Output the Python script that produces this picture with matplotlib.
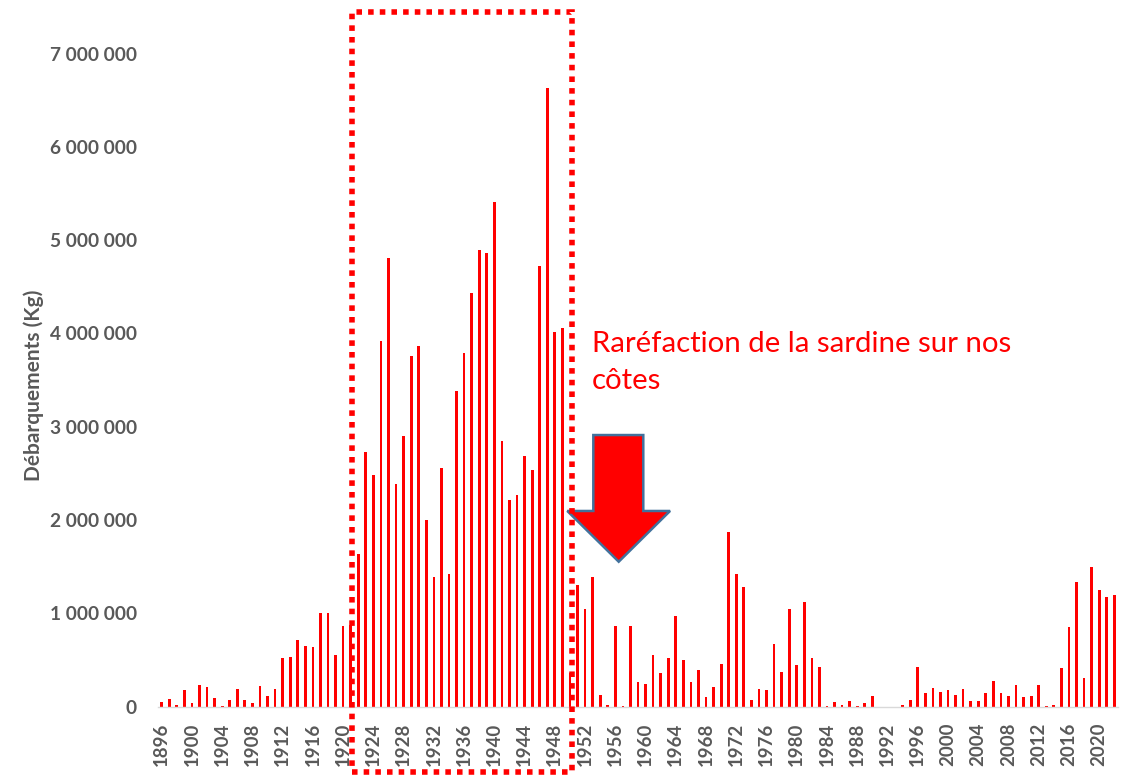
import matplotlib
matplotlib.use("Agg")
import matplotlib.pyplot as plt
from matplotlib.patches import Rectangle, Polygon
import numpy as np

plt.rcParams['font.family'] = ['Lato', 'DejaVu Sans']

# ---------------- data ----------------
years = list(range(1896, 2023))
landings_kg = [
    50000, 80000, 20000, 175000, 40000, 235000, 205000, 90000, 2000, 65000,      # 1896-1905
    190000, 75000, 40000, 215000, 115000, 190000, 525000, 535000, 715000, 650000,  # 1906-1915
    635000, 1000000, 1000000, 550000, 860000, 870000, 1640000, 2730000, 2480000, 3920000,  # 1916-1925
    4810000, 2390000, 2900000, 3760000, 3860000, 2000000, 1390000, 2560000, 1420000, 3380000,  # 1926-1935
    3790000, 4430000, 4890000, 4860000, 5410000, 2850000, 2210000, 2270000, 2680000, 2530000,  # 1936-1945
    4720000, 6630000, 4010000, 4060000, 360000, 1300000, 1040000, 1390000, 125000, 15000,  # 1946-1955
    860000, 2000, 860000, 260000, 240000, 550000, 360000, 520000, 970000, 500000,  # 1956-1965
    260000, 390000, 100000, 210000, 460000, 1870000, 1420000, 1280000, 75000, 190000,  # 1966-1975
    180000, 670000, 370000, 1040000, 450000, 1120000, 520000, 420000, 2000, 53000,  # 1976-1985
    14000, 60000, 2000, 40000, 114000, 0, 0, 0, 14000, 75000,  # 1986-1995
    420000, 150000, 200000, 160000, 180000, 125000, 190000, 60000, 60000, 140000,  # 1996-2005
    270000, 150000, 114000, 235000, 100000, 114000, 235000, 2000, 14000, 410000,  # 2006-2015
    856000, 1330000, 310000, 1500000, 1250000, 1170000, 1190000,  # 2016-2022
]
tick_years = list(range(1896, 2021, 4))
y_ticks = [0, 1000000, 2000000, 3000000, 4000000, 5000000, 6000000, 7000000]
y_label = "Débarquements (Kg)"
note_line1 = "Raréfaction de la sardine sur nos"
note_line2 = "côtes"
highlight_start, highlight_end = 1921.13, 1950.27

grey = "#595959"
W, H = 1127, 779

fig = plt.figure(figsize=(W / 100, H / 100), dpi=100)
ax = fig.add_axes([157.9 / W, 72.5 / H, 960.2 / W, 653 / H])

ax.bar(years, landings_kg, width=0.36, color="#FF0000", linewidth=0, zorder=2)

ax.set_xlim(1895.5, 2022.5)
ax.set_ylim(0, 7000000)

ax.set_xticks(tick_years)
ax.set_xticklabels([str(y) for y in tick_years], rotation=90, fontsize=13.4,
                   fontweight="bold", color=grey)
ax.set_yticks(y_ticks)
ax.set_yticklabels([f"{v:,}".replace(",", " ") for v in y_ticks], fontsize=13.8,
                   fontweight="bold", color=grey)
ax.tick_params(axis="both", length=0)
ax.tick_params(axis="y", pad=15)
ax.tick_params(axis="x", pad=11.5)

for s in ["top", "right", "left"]:
    ax.spines[s].set_visible(False)
ax.spines["bottom"].set_color("#D9D9D9")
ax.spines["bottom"].set_linewidth(1.0)

fig.text(34 / W, 1 - 385.5 / H, y_label, rotation=90, ha="center", va="center",
         fontsize=15, fontweight="bold", color=grey)

# dotted highlight rectangle
y_top, y_bot = 7444000, -699000
rect = Rectangle((highlight_start, y_bot), highlight_end - highlight_start, y_top - y_bot,
                 fill=False, edgecolor="#FF0000", linewidth=4, linestyle=(0, (1.0, 1.1)),
                 clip_on=False, zorder=5)
rect.set_capstyle("butt")
ax.add_patch(rect)

# arrow
arrow_pts = [(1953.09, 2910000), (1959.70, 2910000), (1959.70, 2096000), (1963.24, 2096000),
             (1956.45, 1552000), (1949.65, 2096000), (1953.09, 2096000)]
ax.add_patch(Polygon(arrow_pts, closed=True, facecolor="#FF0000", edgecolor="#41719C",
                     linewidth=1.8, joinstyle="miter", clip_on=False, zorder=4))

# annotation text
t1 = fig.text(592 / W, 1 - 351.7 / H, note_line1, ha="left", va="baseline",
              fontsize=20, color="#FF0000")
fig.canvas.draw()
w = t1.get_window_extent().width
fs = 20 * 420 / w
t1.set_fontsize(fs)
fig.text(592 / W, 1 - 389 / H, note_line2, ha="left", va="baseline",
         fontsize=fs, color="#FF0000")

fig.savefig("out.png", dpi=100)
